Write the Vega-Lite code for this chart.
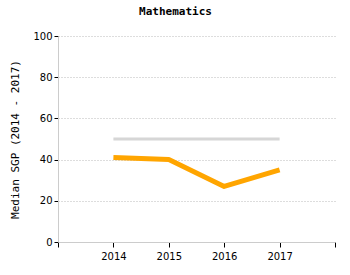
{
  "$schema": "https://vega.github.io/schema/vega-lite/v6.json",
  "width": 277,
  "height": 206,
  "autosize": {"type": "none"},
  "padding": {"left": 58, "top": 36, "right": 15, "bottom": 33},
  "background": "white",
  "title": {"text": "Mathematics", "font": "DejaVu Sans Mono", "fontSize": 11, "fontWeight": "bold", "color": "black", "anchor": "middle", "dx": -21, "offset": 14},
  "config": {"view": {"stroke": null}},
  "data": {"values": [
    {"year": 2014, "series": "Baseline", "sgp": 50},
    {"year": 2015, "series": "Baseline", "sgp": 50},
    {"year": 2016, "series": "Baseline", "sgp": 50},
    {"year": 2017, "series": "Baseline", "sgp": 50},
    {"year": 2014, "series": "Mathematics", "sgp": 41},
    {"year": 2015, "series": "Mathematics", "sgp": 40},
    {"year": 2016, "series": "Mathematics", "sgp": 27},
    {"year": 2017, "series": "Mathematics", "sgp": 35}
  ]},
  "mark": {"type": "line", "strokeCap": "butt", "strokeJoin": "round"},
  "encoding": {
    "x": {"field": "year", "type": "quantitative", "scale": {"domain": [2013, 2018], "nice": false, "zero": false},
      "axis": {"values": [2013, 2014, 2015, 2016, 2017, 2018], "labelExpr": "datum.value == 2013 || datum.value == 2018 ? '' : datum.label", "format": "d", "grid": false, "title": null, "domainColor": "#cccccc", "tickColor": "black", "tickSize": 5, "labelFont": "DejaVu Sans", "labelFontSize": 10, "labelColor": "black", "labelPadding": 4}},
    "y": {"field": "sgp", "type": "quantitative", "scale": {"domain": [0, 100], "nice": false},
      "axis": {"values": [0, 20, 40, 60, 80, 100], "title": "Median SGP (2014 - 2017)", "titleFont": "DejaVu Sans Mono", "titleFontSize": 11, "titleFontWeight": "normal", "titleColor": "black", "titlePadding": 12, "grid": true, "gridDash": [1, 2], "gridColor": "#bbbbbb", "domainColor": "#cccccc", "tickColor": "black", "tickSize": 4, "labelFont": "DejaVu Sans", "labelFontSize": 10, "labelColor": "black", "labelPadding": 2}},
    "color": {"field": "series", "type": "nominal", "scale": {"domain": ["Baseline", "Mathematics"], "range": ["#d6d6d6", "#ffa500"]}, "legend": null},
    "strokeWidth": {"field": "series", "type": "nominal", "scale": {"domain": ["Baseline", "Mathematics"], "range": [3, 5]}, "legend": null}
  }
}
